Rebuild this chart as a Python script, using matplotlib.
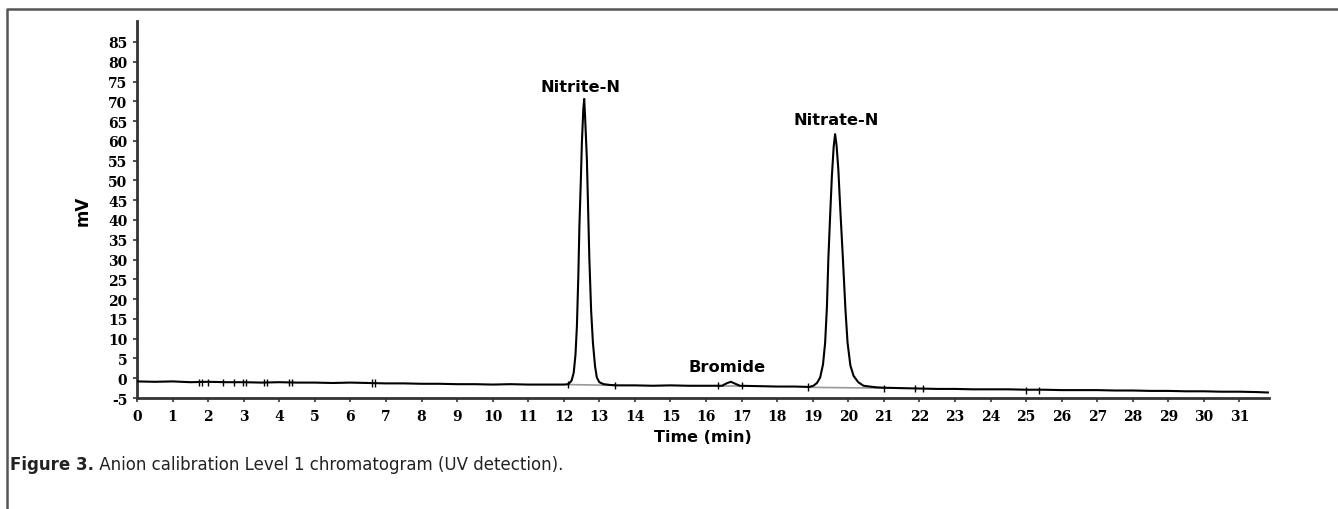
import matplotlib
matplotlib.use("Agg")
import matplotlib.pyplot as plt
from matplotlib.lines import Line2D

plt.rcParams["axes.unicode_minus"] = False

# chromatogram trace (time in min, signal in mV)
time_min = [0.0, 0.5, 1.0, 1.5, 2.0, 2.5, 3.0, 3.5, 4.0, 4.5, 5.0, 5.5, 6.0, 6.5,
            7.0, 7.5, 8.0, 8.5, 9.0, 9.5, 10.0, 10.5, 11.0, 11.5, 12.0, 12.13,
            12.22, 12.28, 12.33, 12.37, 12.41, 12.44, 12.48, 12.51, 12.55, 12.575,
            12.6, 12.65, 12.69, 12.72, 12.77, 12.82, 12.88, 12.93, 13.0, 13.12,
            13.3, 13.5, 14.0, 14.5, 15.0, 15.5, 16.0, 16.45, 16.6, 16.7, 16.8,
            16.95, 17.5, 18.0, 18.5, 18.9, 19.02, 19.12, 19.21, 19.29, 19.35,
            19.4, 19.44, 19.49, 19.54, 19.59, 19.63, 19.67, 19.72, 19.78, 19.85,
            19.92, 19.98, 20.06, 20.15, 20.28, 20.43, 20.6, 20.8, 21.0, 21.5,
            22.0, 22.5, 23.0, 23.5, 24.0, 24.5, 25.0, 25.5, 26.0, 26.5, 27.0,
            27.5, 28.0, 28.5, 29.0, 29.5, 30.0, 30.5, 31.0, 31.5, 31.8]
signal_mv = [-0.8, -0.9, -0.8, -1.0, -0.9, -1.0, -1.0, -1.1, -1.0, -1.1, -1.1, -1.2, -1.1, -1.2,
             -1.3, -1.3, -1.4, -1.4, -1.5, -1.5, -1.6, -1.5, -1.6, -1.6, -1.6, -1.5,
             -0.6, 1.4, 6.0, 13.2, 26.0, 38.5, 50.0, 59.6, 68.0, 70.6,
             66.0, 55.4, 41.0, 30.1, 17.0, 9.0, 3.0, 0.2, -1.0, -1.5,
             -1.7, -1.8, -1.8, -1.9, -1.8, -1.9, -1.9, -1.9, -1.2, -0.9, -1.3,
             -1.9, -2.0, -2.1, -2.1, -2.2, -1.9, -1.2, 0.2, 3.5, 9.0,
             18.0, 30.1, 41.0, 51.2, 58.5, 61.7, 59.0, 52.9, 42.0, 30.1,
             17.5, 9.0, 3.2, 0.6, -1.0, -1.9, -2.1, -2.3, -2.4, -2.5,
             -2.6, -2.7, -2.7, -2.8, -2.8, -2.8, -2.9, -2.9, -3.0, -3.0, -3.0,
             -3.1, -3.1, -3.2, -3.2, -3.3, -3.3, -3.4, -3.4, -3.5, -3.6]

# short noise spikes on the baseline
spike_times = [1.73, 1.83, 1.99, 2.43, 2.72, 2.98, 3.07, 3.56, 3.66, 4.26, 4.36,
               6.6, 6.7, 12.13, 13.45, 16.35, 17.0, 18.87, 21.0, 21.88, 22.11,
               25.0, 25.35]
spike_centers = [-1.0, -1.0, -1.0, -1.0, -1.0, -1.0, -1.0, -1.1, -1.1, -1.0, -1.1,
                 -1.2, -1.2, -1.6, -1.8, -1.9, -1.9, -2.2, -2.5, -2.7, -2.7,
                 -3.0, -3.0]

# integration baselines (start t, start mV, end t, end mV)
base_start_t = [12.13, 16.35, 18.87]
base_start_mv = [-1.6, -1.9, -2.3]
base_end_t = [13.45, 17.0, 21.0]
base_end_mv = [-1.8, -1.9, -2.5]

peak_names = ["Nitrite-N", "Bromide", "Nitrate-N"]
peak_label_t = [12.46, 16.6, 19.65]
peak_label_mv = [71.8, 1.0, 63.4]

x_ticks = list(range(0, 32))
y_ticks = list(range(-5, 90, 5))

fig = plt.figure(figsize=(13.38, 5.1), dpi=100)
ax = fig.add_axes([0.1024, 0.2176, 0.8460, 0.7393])

ax.plot(time_min, signal_mv, color="black", lw=1.5, zorder=3)
for t, c in zip(spike_times, spike_centers):
    ax.vlines(t, c - 0.9, c + 0.9, color="black", lw=1.0, zorder=3)
for t0, m0, t1, m1 in zip(base_start_t, base_start_mv, base_end_t, base_end_mv):
    ax.plot([t0, t1], [m0, m1], color="#999999", lw=1.2, zorder=2)

for name, t, m in zip(peak_names, peak_label_t, peak_label_mv):
    ax.text(t, m, name, ha="center", va="bottom", fontsize=11.7,
            fontweight="bold", family="DejaVu Sans")

ax.set_xlim(0, 31.83)
ax.set_ylim(-5, 90.3)
ax.set_xticks(x_ticks)
ax.set_yticks(y_ticks)
for lab in ax.get_xticklabels() + ax.get_yticklabels():
    lab.set_family("DejaVu Serif")
    lab.set_fontweight("bold")
    lab.set_fontsize(10)
ax.tick_params(axis="both", length=3, width=1.2, color="#333333", pad=4)
ax.tick_params(axis="x", pad=5)

for side in ["top", "right"]:
    ax.spines[side].set_visible(False)
for side in ["left", "bottom"]:
    ax.spines[side].set_linewidth(2)
    ax.spines[side].set_color("#333333")

ax.set_xlabel("Time (min)", fontsize=11.5, fontweight="bold", labelpad=4)
ax.set_ylabel("mV", fontsize=12, fontweight="bold", labelpad=12)

# figure frame (left and top edges visible)
fig.add_artist(Line2D([7 / 1338, 7 / 1338, 1.0], [0.0, 1 - 10 / 510, 1 - 10 / 510],
                      transform=fig.transFigure, color="#555555", lw=1.8))

t1 = fig.text(10 / 1338, 1 - 465 / 510, "Figure 3.", fontsize=12, fontweight="bold",
              family="DejaVu Sans", va="center", color="#222222")
ax.annotate(" Anion calibration Level 1 chromatogram (UV detection).", xy=(1, 0.5),
            xycoords=t1, va="center", ha="left", fontsize=12, family="DejaVu Sans",
            color="#222222", annotation_clip=False)

fig.savefig("out.png", dpi=100)
